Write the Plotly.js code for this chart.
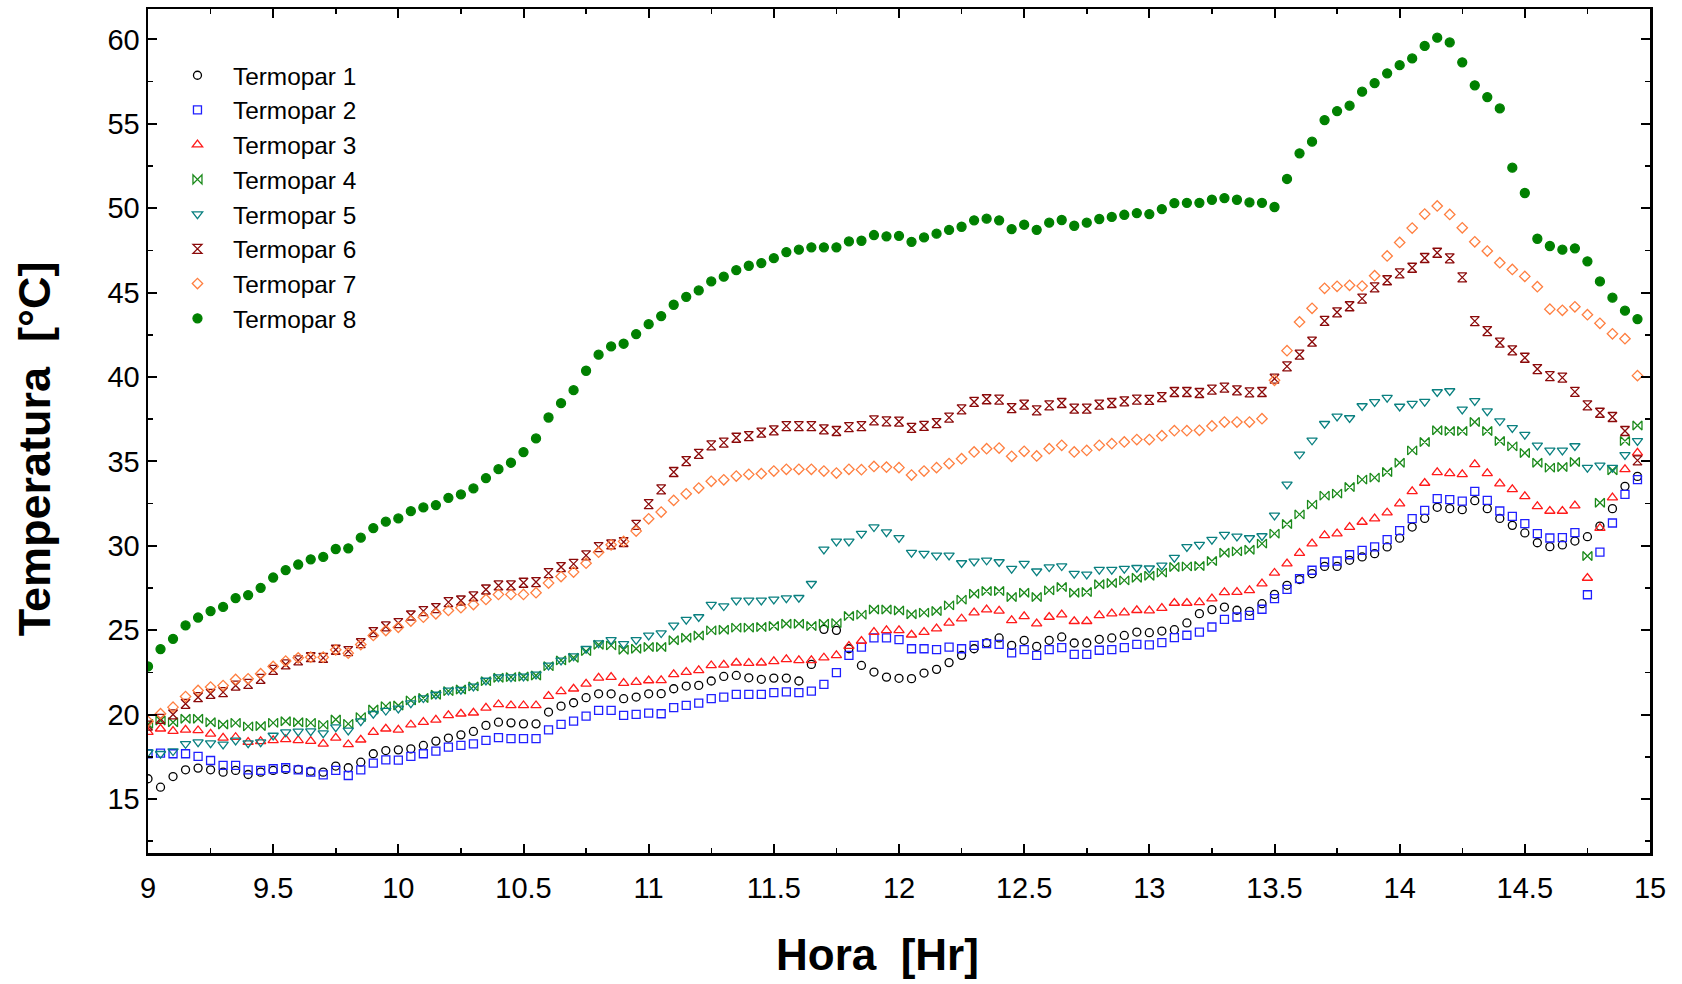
<!DOCTYPE html>
<html>
<head>
<meta charset="utf-8">
<script src="https://cdn.plot.ly/plotly-3.0.1.min.js"></script>
<style>
  html, body { margin: 0; padding: 0; background: #ffffff; }
  #chart { width: 1682px; height: 984px; }
</style>
</head>
<body>
<div id="chart"></div>
<script>
// Time in hours (sampling every 3 minutes)
const hora = [
  9.00, 9.05, 9.10, 9.15, 9.20, 9.25, 9.30, 9.35, 9.40, 9.45,
  9.50, 9.55, 9.60, 9.65, 9.70, 9.75, 9.80, 9.85, 9.90, 9.95,
  10.00, 10.05, 10.10, 10.15, 10.20, 10.25, 10.30, 10.35, 10.40, 10.45,
  10.50, 10.55, 10.60, 10.65, 10.70, 10.75, 10.80, 10.85, 10.90, 10.95,
  11.00, 11.05, 11.10, 11.15, 11.20, 11.25, 11.30, 11.35, 11.40, 11.45,
  11.50, 11.55, 11.60, 11.65, 11.70, 11.75, 11.80, 11.85, 11.90, 11.95,
  12.00, 12.05, 12.10, 12.15, 12.20, 12.25, 12.30, 12.35, 12.40, 12.45,
  12.50, 12.55, 12.60, 12.65, 12.70, 12.75, 12.80, 12.85, 12.90, 12.95,
  13.00, 13.05, 13.10, 13.15, 13.20, 13.25, 13.30, 13.35, 13.40, 13.45,
  13.50, 13.55, 13.60, 13.65, 13.70, 13.75, 13.80, 13.85, 13.90, 13.95,
  14.00, 14.05, 14.10, 14.15, 14.20, 14.25, 14.30, 14.35, 14.40, 14.45,
  14.50, 14.55, 14.60, 14.65, 14.70, 14.75, 14.80, 14.85, 14.90, 14.95
];

const termopar1 = [
  16.20, 15.70, 16.33, 16.73, 16.83, 16.73, 16.59, 16.69, 16.45, 16.59,
  16.69, 16.75, 16.75, 16.65, 16.59, 16.95, 16.85, 17.18, 17.68, 17.87,
  17.91, 17.97, 18.17, 18.43, 18.61, 18.80, 19.00, 19.36, 19.55, 19.51,
  19.45, 19.45, 20.15, 20.50, 20.70, 21.00, 21.23, 21.23, 20.94, 21.04,
  21.23, 21.24, 21.53, 21.69, 21.73, 21.99, 22.26, 22.32, 22.18, 22.09,
  22.16, 22.16, 21.99, 22.97, 25.05, 24.99, 23.90, 22.91, 22.52, 22.22,
  22.15, 22.13, 22.46, 22.68, 23.08, 23.51, 23.90, 24.24, 24.54, 24.10,
  24.40, 24.04, 24.40, 24.60, 24.24, 24.24, 24.46, 24.54, 24.69, 24.89,
  24.85, 24.95, 25.03, 25.43, 25.98, 26.22, 26.37, 26.18, 26.12, 26.57,
  27.12, 27.66, 28.00, 28.35, 28.78, 28.78, 29.14, 29.34, 29.53, 29.93,
  30.45, 31.11, 31.62, 32.28, 32.20, 32.14, 32.67, 32.20, 31.62, 31.21,
  30.76, 30.18, 29.95, 30.05, 30.28, 30.54, 31.17, 32.20, 33.52, 34.11
];

const termopar2 = [
  17.68, 17.72, 17.68, 17.68, 17.52, 17.28, 16.99, 16.99, 16.73, 16.69,
  16.79, 16.85, 16.73, 16.59, 16.43, 16.69, 16.39, 16.73, 17.12, 17.32,
  17.30, 17.52, 17.68, 17.84, 18.07, 18.17, 18.27, 18.47, 18.63, 18.57,
  18.57, 18.57, 19.10, 19.42, 19.61, 19.91, 20.25, 20.25, 19.95, 20.01,
  20.09, 20.05, 20.41, 20.55, 20.68, 20.94, 21.04, 21.20, 21.20, 21.20,
  21.30, 21.34, 21.30, 21.39, 21.79, 22.48, 23.51, 24.00, 24.55, 24.55,
  24.44, 23.90, 23.90, 23.85, 24.00, 23.90, 24.10, 24.20, 24.16, 23.65,
  23.85, 23.51, 23.85, 23.97, 23.57, 23.57, 23.81, 23.85, 23.97, 24.16,
  24.13, 24.26, 24.56, 24.70, 24.89, 25.19, 25.64, 25.78, 25.88, 26.24,
  26.87, 27.42, 28.05, 28.55, 29.04, 29.10, 29.47, 29.73, 29.93, 30.36,
  30.90, 31.61, 32.10, 32.79, 32.73, 32.65, 33.22, 32.69, 32.06, 31.74,
  31.31, 30.72, 30.46, 30.48, 30.78, 27.10, 29.63, 31.35, 33.05, 33.92
];

const termopar3 = [
  18.96, 19.16, 19.02, 19.10, 19.06, 18.86, 18.62, 18.66, 18.37, 18.41,
  18.47, 18.53, 18.47, 18.43, 18.27, 18.62, 18.23, 18.51, 18.96, 19.16,
  19.10, 19.40, 19.55, 19.69, 19.95, 20.05, 20.11, 20.40, 20.60, 20.54,
  20.54, 20.54, 21.09, 21.37, 21.53, 21.82, 22.18, 22.22, 21.86, 21.92,
  22.02, 22.03, 22.38, 22.52, 22.62, 22.91, 22.95, 23.07, 23.05, 23.07,
  23.15, 23.27, 23.21, 23.21, 23.37, 23.51, 24.06, 24.36, 24.89, 24.99,
  24.99, 24.73, 24.89, 25.09, 25.43, 25.68, 26.04, 26.22, 26.14, 25.58,
  25.82, 25.39, 25.78, 25.92, 25.53, 25.53, 25.88, 25.98, 26.04, 26.18,
  26.16, 26.31, 26.61, 26.61, 26.65, 26.87, 27.24, 27.26, 27.36, 27.76,
  28.39, 28.94, 29.57, 30.13, 30.62, 30.72, 31.11, 31.41, 31.61, 31.96,
  32.50, 33.22, 33.72, 34.35, 34.29, 34.23, 34.82, 34.29, 33.68, 33.34,
  32.93, 32.34, 32.06, 32.06, 32.38, 28.09, 31.05, 32.85, 34.53, 35.50
];

const termopar4 = [
  19.45, 19.65, 19.55, 19.75, 19.75, 19.55, 19.41, 19.51, 19.30, 19.32,
  19.51, 19.61, 19.55, 19.51, 19.39, 19.71, 19.45, 19.85, 20.30, 20.50,
  20.54, 20.84, 20.98, 21.17, 21.39, 21.49, 21.67, 21.98, 22.18, 22.22,
  22.26, 22.32, 22.87, 23.21, 23.37, 23.76, 24.14, 24.10, 23.84, 23.90,
  24.00, 24.00, 24.40, 24.55, 24.69, 24.99, 25.03, 25.15, 25.15, 25.19,
  25.25, 25.38, 25.38, 25.25, 25.38, 25.42, 25.84, 25.92, 26.23, 26.23,
  26.17, 25.94, 26.04, 26.14, 26.47, 26.81, 27.16, 27.32, 27.32, 26.97,
  27.22, 26.97, 27.36, 27.56, 27.22, 27.26, 27.72, 27.80, 27.95, 28.11,
  28.22, 28.41, 28.74, 28.78, 28.80, 29.10, 29.59, 29.67, 29.77, 30.13,
  30.72, 31.29, 31.86, 32.44, 32.97, 33.09, 33.48, 33.92, 34.04, 34.37,
  34.92, 35.65, 36.15, 36.84, 36.80, 36.80, 37.33, 36.80, 36.21, 35.89,
  35.50, 34.92, 34.63, 34.67, 34.96, 29.39, 32.55, 34.47, 36.21, 37.13
];

const termopar5 = [
  17.77, 17.68, 17.84, 18.27, 18.37, 18.31, 18.23, 18.47, 18.31, 18.37,
  18.76, 18.96, 19.00, 19.02, 18.90, 19.26, 19.06, 19.61, 20.05, 20.24,
  20.37, 20.68, 20.98, 21.19, 21.43, 21.47, 21.67, 22.02, 22.22, 22.22,
  22.26, 22.38, 22.91, 23.21, 23.46, 23.90, 24.23, 24.43, 24.19, 24.43,
  24.69, 24.83, 25.28, 25.62, 25.78, 26.51, 26.43, 26.77, 26.77, 26.77,
  26.82, 26.90, 26.92, 27.75, 29.79, 30.26, 30.26, 30.72, 31.11, 30.81,
  30.47, 29.59, 29.53, 29.43, 29.43, 28.98, 29.08, 29.14, 29.04, 28.65,
  28.94, 28.49, 28.74, 28.80, 28.35, 28.31, 28.59, 28.59, 28.65, 28.70,
  28.67, 28.84, 29.30, 29.93, 30.07, 30.36, 30.66, 30.56, 30.46, 30.58,
  31.80, 33.64, 35.42, 36.25, 37.23, 37.67, 37.57, 38.28, 38.52, 38.78,
  38.25, 38.42, 38.54, 39.11, 39.17, 38.08, 38.58, 37.98, 37.39, 36.98,
  36.58, 35.95, 35.65, 35.65, 35.91, 34.63, 34.76, 34.63, 35.38, 36.21
];

const termopar6 = [
  19.35, 19.75, 20.01, 20.64, 21.03, 21.23, 21.33, 21.72, 21.82, 22.12,
  22.65, 22.97, 23.21, 23.40, 23.36, 23.84, 23.76, 24.23, 24.89, 25.22,
  25.42, 25.87, 26.13, 26.31, 26.66, 26.76, 27.00, 27.41, 27.65, 27.65,
  27.81, 27.85, 28.38, 28.74, 28.93, 29.43, 29.92, 30.08, 30.22, 31.24,
  32.47, 33.34, 34.37, 35.02, 35.45, 35.95, 36.11, 36.40, 36.50, 36.70,
  36.84, 37.09, 37.09, 37.09, 36.90, 36.80, 37.03, 37.09, 37.43, 37.37,
  37.36, 36.98, 37.10, 37.27, 37.59, 38.08, 38.52, 38.68, 38.66, 38.16,
  38.36, 38.02, 38.32, 38.46, 38.12, 38.12, 38.36, 38.46, 38.56, 38.66,
  38.64, 38.81, 39.11, 39.11, 39.05, 39.25, 39.37, 39.21, 39.09, 39.11,
  39.90, 40.63, 41.32, 42.09, 43.32, 43.83, 44.19, 44.64, 45.31, 45.73,
  46.14, 46.47, 47.05, 47.36, 47.03, 45.90, 43.31, 42.72, 42.03, 41.58,
  41.14, 40.47, 40.05, 39.96, 39.12, 38.32, 37.88, 37.63, 36.80, 35.06
];

const termopar7 = [
  19.60, 20.05, 20.44, 21.07, 21.43, 21.63, 21.72, 22.08, 22.12, 22.42,
  22.85, 23.17, 23.36, 23.40, 23.40, 23.84, 23.64, 24.15, 24.69, 24.98,
  25.17, 25.54, 25.77, 25.97, 26.17, 26.33, 26.52, 26.82, 27.12, 27.12,
  27.12, 27.22, 27.79, 28.18, 28.44, 28.97, 29.62, 30.06, 30.26, 30.87,
  31.60, 32.00, 32.69, 33.08, 33.42, 33.82, 33.91, 34.13, 34.23, 34.27,
  34.43, 34.53, 34.53, 34.53, 34.43, 34.31, 34.53, 34.51, 34.70, 34.66,
  34.63, 34.19, 34.43, 34.63, 34.87, 35.16, 35.56, 35.75, 35.79, 35.30,
  35.60, 35.32, 35.75, 35.95, 35.56, 35.65, 35.95, 36.05, 36.15, 36.29,
  36.29, 36.52, 36.82, 36.82, 36.84, 37.10, 37.33, 37.33, 37.33, 37.53,
  39.80, 41.56, 43.26, 44.07, 45.25, 45.37, 45.43, 45.39, 46.00, 47.17,
  47.97, 48.82, 49.65, 50.13, 49.63, 48.84, 48.01, 47.46, 46.77, 46.37,
  45.96, 45.35, 44.02, 43.95, 44.16, 43.69, 43.18, 42.56, 42.27, 40.08
];

const termopar8 = [
  22.85, 23.88, 24.49, 25.28, 25.75, 26.13, 26.38, 26.90, 27.08, 27.51,
  28.12, 28.56, 28.89, 29.20, 29.34, 29.81, 29.85, 30.48, 31.05, 31.43,
  31.62, 32.05, 32.27, 32.41, 32.84, 33.04, 33.40, 34.01, 34.54, 34.92,
  35.55, 36.36, 37.60, 38.45, 39.22, 40.37, 41.32, 41.81, 41.97, 42.54,
  43.13, 43.61, 44.28, 44.75, 45.13, 45.66, 45.94, 46.33, 46.59, 46.75,
  47.04, 47.40, 47.54, 47.68, 47.68, 47.68, 48.03, 48.07, 48.41, 48.33,
  48.36, 48.01, 48.27, 48.49, 48.71, 48.90, 49.28, 49.38, 49.28, 48.76,
  49.02, 48.72, 49.14, 49.30, 48.96, 49.14, 49.36, 49.48, 49.61, 49.71,
  49.65, 49.95, 50.30, 50.32, 50.32, 50.50, 50.60, 50.50, 50.34, 50.32,
  50.07, 51.73, 53.25, 53.94, 55.22, 55.75, 56.07, 56.90, 57.41, 57.99,
  58.47, 58.87, 59.61, 60.10, 59.82, 58.64, 57.28, 56.58, 55.91, 52.40,
  50.90, 48.19, 47.76, 47.54, 47.62, 46.85, 45.66, 44.70, 43.93, 43.43
];

const seriesNames = ['Termopar 1', 'Termopar 2', 'Termopar 3', 'Termopar 4',
                     'Termopar 5', 'Termopar 6', 'Termopar 7', 'Termopar 8'];
const seriesValues = [termopar1, termopar2, termopar3, termopar4,
                      termopar5, termopar6, termopar7, termopar8];
const seriesColors = ['#000000', '#1f1fff', '#ff1a1a', '#1a8a1a',
                      '#0a8080', '#8b0a0a', '#ff7f40', '#008000'];
const seriesSymbols = ['circle-open', 'square-open', 'triangle-up-open', 'bowtie-open',
                       'triangle-down-open', 'hourglass-open', 'diamond-open', 'circle'];
const seriesSizes = [8, 8, 9, 9, 9, 9, 8, 9];

const traces = seriesNames.map((name, k) => ({
  type: 'scatter',
  mode: 'markers',
  name: name,
  x: hora,
  y: seriesValues[k],
  marker: {
    symbol: seriesSymbols[k],
    size: seriesSizes[k],
    color: seriesColors[k],
    line: { color: seriesColors[k], width: 1.3 }
  }
}));

const baseFamily = 'Arial, "Liberation Sans", sans-serif';
const axisFont = { family: baseFamily, size: 29, color: '#000000' };

const layout = {
  width: 1682,
  height: 984,
  paper_bgcolor: '#ffffff',
  plot_bgcolor: '#ffffff',
  margin: { l: 148, r: 32, t: 9, b: 131 },
  showlegend: true,
  legend: {
    x: 0.0093, y: 0.948, xanchor: 'left', yanchor: 'top',
    bgcolor: 'rgba(255,255,255,0)',
    borderwidth: 0,
    font: { family: baseFamily, size: 24.4, color: '#000000' },
    itemwidth: 61
  },
  xaxis: {
    range: [9, 15],
    tickmode: 'linear', tick0: 9, dtick: 0.5,
    ticks: 'inside', ticklen: 9, tickwidth: 2, tickcolor: '#000000',
    minor: { dtick: 0.25, ticks: 'inside', ticklen: 5, tickwidth: 1.5, tickcolor: '#000000' },
    showline: true, linecolor: '#000000', linewidth: 2.5, mirror: 'ticks',
    showgrid: false, zeroline: false,
    tickfont: axisFont,
    ticklabelstandoff: 8
  },
  yaxis: {
    range: [11.8, 61.8],
    tickmode: 'linear', tick0: 15, dtick: 5,
    ticks: 'inside', ticklen: 9, tickwidth: 2, tickcolor: '#000000',
    minor: { dtick: 2.5, ticks: 'inside', ticklen: 5, tickwidth: 1.5, tickcolor: '#000000' },
    showline: true, linecolor: '#000000', linewidth: 2.5, mirror: 'ticks',
    showgrid: false, zeroline: false,
    tickfont: axisFont,
    ticklabelstandoff: 0
  },
  annotations: [
    {
      text: 'Hora  [Hr]', showarrow: false,
      xref: 'paper', yref: 'paper', x: 0.4854, y: -0.1208,
      xanchor: 'center', yanchor: 'middle',
      font: { family: baseFamily, size: 44, color: '#000000', weight: 'bold' }
    },
    {
      text: 'Temperatura  [°C]', showarrow: false, textangle: -90,
      xref: 'paper', yref: 'paper', x: -0.0759, y: 0.4796,
      xanchor: 'center', yanchor: 'middle',
      font: { family: baseFamily, size: 45, color: '#000000', weight: 'bold' }
    }
  ]
};

Plotly.newPlot('chart', traces, layout, { displayModeBar: false, staticPlot: true });
</script>
</body>
</html>
